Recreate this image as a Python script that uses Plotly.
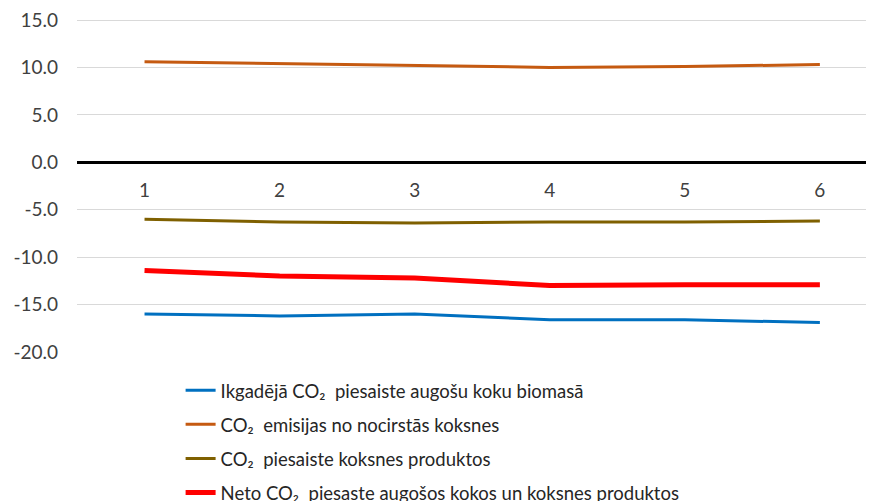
import plotly.graph_objects as go

gadi = [1, 2, 3, 4, 5, 6]

piesaiste_biomasa = [-16.0, -16.2, -16.0, -16.6, -16.6, -16.9]
emisijas_koksne = [10.6, 10.4, 10.2, 10.0, 10.1, 10.3]
piesaiste_produkti = [-6.0, -6.3, -6.4, -6.3, -6.3, -6.2]
neto_piesaiste = [-11.4, -12.0, -12.2, -13.0, -12.9, -12.9]

y_ticks = [-20, -15, -10, -5, 0, 5, 10, 15]
y_tick_text = ["-20.0", "-15.0", "-10.0", "-5.0", "0.0", "5.0", "10.0", "15.0"]

_SERIJAS = [
    ("Ikgadējā CO₂\u00a0 piesaiste augošu koku biomasā", piesaiste_biomasa, "#0070C0", 3),
    ("CO₂\u00a0 emisijas no nocirstās koksnes", emisijas_koksne, "#C55A11", 3),
    ("CO₂\u00a0 piesaiste koksnes produktos", piesaiste_produkti, "#7F6000", 3),
    ("Neto CO₂\u00a0 piesaste augošos kokos un koksnes produktos", neto_piesaiste, "#FF0000", 5),
]

Y_MIN, Y_MAX = -20, 15.316

fig = go.Figure()
for i, (nosaukums, vertibas, krasa, platums) in enumerate(_SERIJAS):
    fig.add_trace(
        go.Scatter(
            x=gadi,
            y=vertibas,
            mode="lines",
            name=nosaukums,
            legendgroup=f"g{i}",
            line={"color": krasa, "width": platums},
        )
    )

# lapas body atkāpe ir 8px, tāpēc malas ir pārbīdītas
fig.update_layout(
    width=874,
    height=501,
    margin={"l": 69, "r": 0, "t": 9, "b": 157, "autoexpand": False},
    plot_bgcolor="white",
    paper_bgcolor="white",
    font={"family": "Lato, 'Open Sans', sans-serif", "size": 19, "color": "#404040"},
    showlegend=True,
    legend={
        "x": 0.1287,
        "y": -0.059,
        "xanchor": "left",
        "yanchor": "top",
        "tracegroupgap": 7,
        "font": {"size": 18.5, "color": "#262626"},
        "itemwidth": 30,
    },
    xaxis={
        "range": [0.5, 6.46],
        "tickvals": gadi,
        "anchor": "free",
        "position": -Y_MIN / (Y_MAX - Y_MIN),
        "showgrid": False,
        "showline": True,
        "linecolor": "black",
        "linewidth": 3,
        "ticks": "",
        "ticklabelstandoff": 10,
        "zeroline": False,
        "automargin": False,
    },
    yaxis={
        "range": [Y_MIN, Y_MAX],
        "tickvals": y_ticks,
        "ticktext": y_tick_text,
        "showgrid": True,
        "gridcolor": "#D9D9D9",
        "gridwidth": 1,
        "zeroline": False,
        "ticks": "",
        "ticklabelstandoff": 18,
        "ticklabeloverflow": "allow",
        "automargin": False,
    },
)

fig.write_html("out.html")
